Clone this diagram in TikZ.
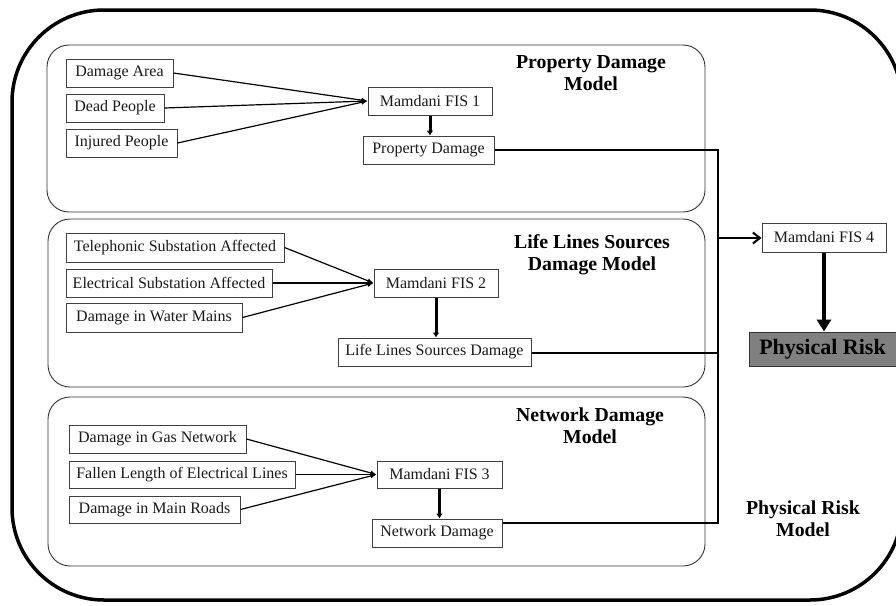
\documentclass[tikz,border=0pt]{standalone}
\usepackage{fontspec}
\setmainfont{Liberation Serif}
\usetikzlibrary{arrows.meta}
\begin{document}
\begin{tikzpicture}[x=1pt,y=-1pt,
  group/.style={draw=black!80, line width=0.9pt, rounded corners=22pt},
  inbox/.style={draw=black!75, line width=1pt, inner sep=0pt, font=\fontsize{16}{18}\selectfont, text=black!90},
  title/.style={align=center, font=\bfseries\fontsize{19.8}{22}\selectfont},
  inline/.style={line width=1.2pt, -{Latex[length=6pt,width=5pt]}},
  down/.style={line width=3pt, -{Latex[length=5pt,width=7pt]}},
  thick line/.style={line width=2.8pt},
]
\useasboundingbox (0,0) rectangle (896,605);
% outer frame
\begin{scope}
\clip (0,0) rectangle (896,605);
\draw[line width=3.5pt, rounded corners=92pt] (12,10) rectangle (902,600);
\end{scope}
% groups
\draw[group] (47,45) rectangle (705,212);
\draw[group] (48,219) rectangle (705,387);
\draw[group] (48,397) rectangle (705,566);
% titles
\node[title] (t1) at (591,73) {Property Damage\\Model};
\node[title] (t2) at (592,255) {Life Lines Sources\\Damage Model};
\node[title] (t3) at (590,426) {Network Damage\\Model};
\node[title] (t4) at (803,519) {Physical Risk\\Model};
% group 1
\node[inbox, minimum width=107pt, minimum height=28pt] (a1) at (119.5,73) {Damage Area};
\node[inbox, minimum width=98pt, minimum height=28pt] (a2) at (115,108) {Dead People};
\node[inbox, minimum width=111pt, minimum height=28pt] (a3) at (121.5,143) {Injured People};
\node[inbox, minimum width=124pt, minimum height=28pt] (f1) at (430,101) {Mamdani FIS 1};
\node[inbox, minimum width=131pt, minimum height=28pt] (o1) at (428.5,150) {Property Damage};
% group 2
\node[inbox, minimum width=218pt, minimum height=29pt] (b1) at (175,247.5) {Telephonic Substation Affected};
\node[inbox, minimum width=206pt, minimum height=28pt] (b2) at (169,283) {Electrical Substation Affected};
\node[inbox, minimum width=176pt, minimum height=29pt] (b3) at (154,317.5) {Damage in Water Mains};
\node[inbox, minimum width=124pt, minimum height=28pt] (f2) at (436,283) {Mamdani FIS 2};
\node[inbox, minimum width=193pt, minimum height=28pt] (o2) at (434.5,352) {Life Lines Sources Damage};
% group 3
\node[inbox, minimum width=177pt, minimum height=28pt] (c1) at (157.5,439) {Damage in Gas Network};
\node[inbox, minimum width=226pt, minimum height=27pt] (c2) at (182,474.5) {Fallen Length of Electrical Lines};
\node[inbox, minimum width=171pt, minimum height=27pt] (c3) at (154.5,509.5) {Damage in Main Roads};
\node[inbox, minimum width=125pt, minimum height=27pt] (f3) at (439.5,474.5) {Mamdani FIS 3};
\node[inbox, minimum width=130pt, minimum height=28pt] (o3) at (437,533) {Network Damage};
% final
\node[inbox, minimum width=124pt, minimum height=29pt] (f4) at (824,237.5) {Mamdani FIS 4};
\node[draw=black!80, line width=1pt, fill=black!50, minimum width=147pt, minimum height=34pt, inner sep=0pt, font=\bfseries\fontsize{22}{24}\selectfont] (pr) at (822.5,349) {Physical Risk};
% input connectors
\foreach \s in {a1,a2,a3} \draw[inline] (\s.east) -- (f1.west);
\foreach \s in {b1,b2,b3} \draw[inline] (\s.east) -- (f2.west);
\foreach \s in {c1,c2,c3} \draw[inline] (\s.east) -- (f3.west);
% FIS to outputs
\draw[down] (f1.south) -- (f1.south |- o1.north);
\draw[down] (f2.south) -- (f2.south |- o2.north);
\draw[down] (f3.south) -- (f3.south |- o3.north);
% collection
\coordinate (j1) at (718,150);
\coordinate (j2) at (718,353);
\coordinate (j3) at (718,523);
\coordinate (j4) at (718,238);
\draw[thick line] (o1.east) -- (j1) -- (j3) -- (o3.east |- j3);
\draw[thick line] (o2.east |- j2) -- (j2);
\draw[line width=2.8pt, -{Straight Barb[length=7pt,width=11pt,line width=2pt]}] (j4) -- (f4.west |- j4);
\draw[line width=4pt, -{Triangle[length=12pt,width=14pt]}] (f4.south) -- (f4.south |- pr.north);
\end{tikzpicture}
\end{document}
